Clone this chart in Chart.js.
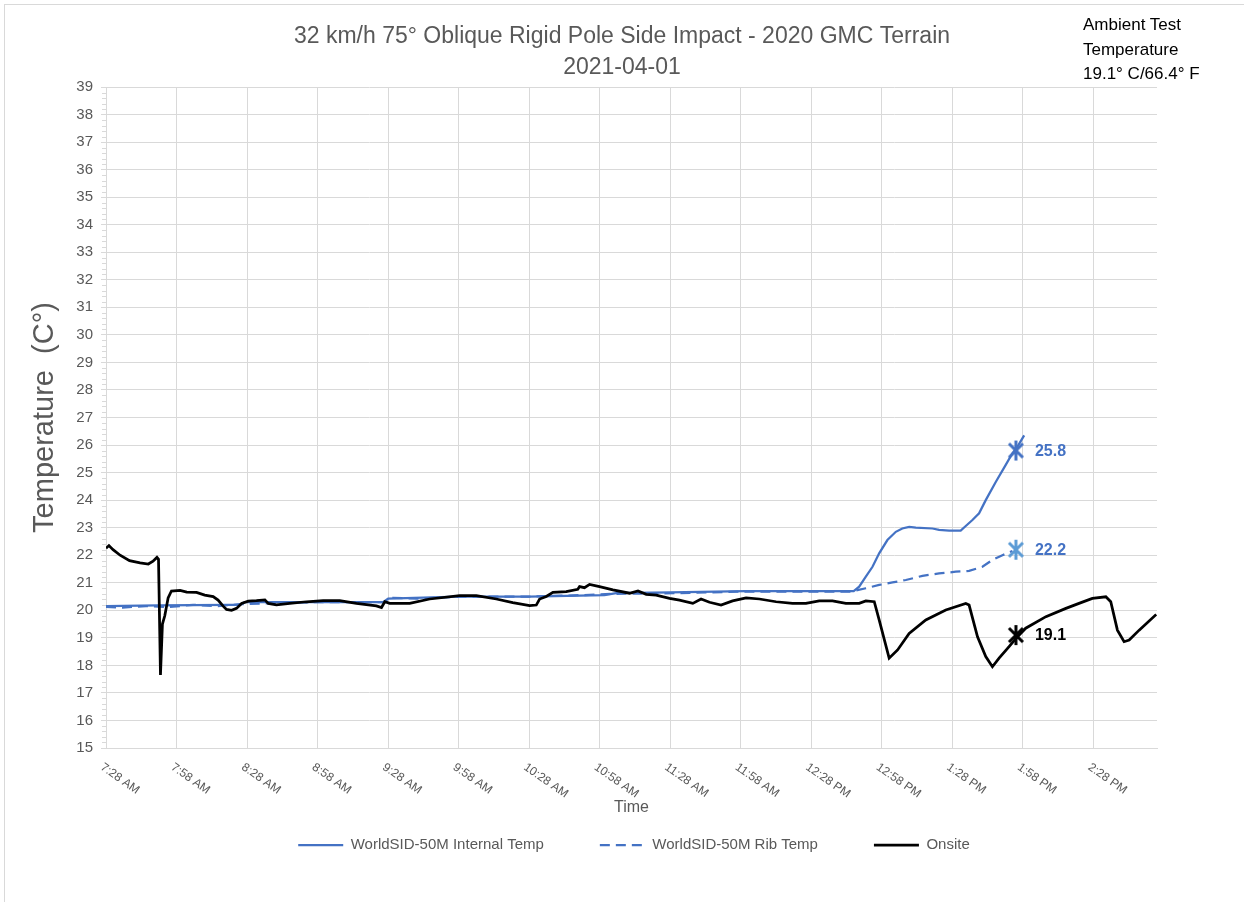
<!DOCTYPE html>
<html>
<head>
<meta charset="utf-8">
<title>32 km/h 75° Oblique Rigid Pole Side Impact - 2020 GMC Terrain</title>
<script src="https://cdn.jsdelivr.net/npm/chart.js@4.4.1/dist/chart.umd.min.js"></script>
<style>
    html, body { margin: 0; padding: 0; background: #FFFFFF; overflow: hidden; }
    #wrap { position: relative; width: 1244px; height: 902px; }
    #chart { display: block; }
    #frame { position: absolute; left: 4px; top: 4px; width: 1260px; height: 920px; border: 1px solid #D9D9D9; pointer-events: none; }
    #ambient { position: absolute; left: 1083px; top: 13px; font: 17px "Liberation Sans", Arial, sans-serif; line-height: 24.5px; color: #000000; }
</style>
</head>
<body>
<div id="wrap">
    <canvas id="chart" width="1244" height="902"></canvas>
    <div id="frame"></div>
    <div id="ambient">Ambient Test<br>Temperature<br>19.1° C/66.4° F</div>
</div>
<script>
const FONT = '"Liberation Sans", Arial, sans-serif';
const GRAY = "#595959";
const GRID = "#D9D9D9";

const TITLE_LINES = ["32 km/h 75° Oblique Rigid Pole Side Impact - 2020 GMC Terrain", "2021-04-01"];
const Y_TITLE = "Temperature  (C°)";
const X_TITLE = "Time";

const TICK_LABELS = [
    "7:28 AM", "7:58 AM", "8:28 AM", "8:58 AM", "9:28 AM", "9:58 AM", "10:28 AM", "10:58 AM",
    "11:28 AM", "11:58 AM", "12:28 PM", "12:58 PM", "1:28 PM", "1:58 PM", "2:28 PM",
];
const X_RANGE = ["7:28", "14:55"];
const Y_RANGE = [15, 39];

const SERIES_NAMES = ["WorldSID-50M Internal Temp", "WorldSID-50M Rib Temp", "Onsite"];

const INTERNAL_TIMES = [
    "7:28", "7:50", "8:20", "8:25", "8:27", "9:26", "9:28", "9:58", "10:28", "11:00", "11:05",
    "11:28", "12:00", "12:46", "12:48:20", "12:51:10", "12:54", "12:56:50", "13:00:20", "13:03:55",
    "13:06:40", "13:09:35", "13:12:25", "13:19:30", "13:22:20", "13:26:35", "13:31:30", "13:33:40",
    "13:36:30", "13:39:20", "13:42:10", "13:46:25", "13:50:40", "13:53:30", "13:55:40", "13:57:45", "13:58:30",
];
const INTERNAL_TEMPS = [
    20.15, 20.18, 20.2, 20.2, 20.3, 20.3, 20.42, 20.5, 20.5, 20.55, 20.62,
    20.65, 20.7, 20.7, 20.86, 21.22, 21.58, 22.07, 22.55, 22.85,
    22.97, 23.03, 23.0, 22.97, 22.92, 22.89, 22.89, 23.06,
    23.28, 23.52, 24.0, 24.66, 25.28, 25.7, 25.94, 26.24, 26.35,
];

const RIB_TIMES = [
    "7:28", "7:35", "7:45", "7:55", "8:05", "8:15", "8:25", "8:35", "9:00", "9:27", "9:30", "9:40",
    "10:00", "10:30", "10:50", "11:05", "11:30", "12:00", "12:45", "12:51:10", "12:56:50", "13:02:30",
    "13:08:10", "13:15:15", "13:22:20", "13:29:25", "13:35:05", "13:40:45", "13:45", "13:49:15", "13:53:30",
];
const RIB_TEMPS = [
    20.12, 20.1, 20.15, 20.12, 20.2, 20.15, 20.22, 20.25, 20.3, 20.3, 20.45, 20.42,
    20.5, 20.5, 20.55, 20.6, 20.62, 20.68, 20.68, 20.8, 20.92, 21.01,
    21.1, 21.25, 21.34, 21.4, 21.43, 21.58, 21.83, 22.0, 22.15,
];

const ONSITE_TIMES = [
    "7:28", "7:29:15", "7:31", "7:34", "7:38", "7:42:30", "7:46", "7:48", "7:49:40", "7:50:20",
    "7:51:10", "7:52", "7:53", "7:54:25", "7:55:50", "7:59:30", "8:02:20", "8:06:30", "8:10", "8:13:35",
    "8:15:40", "8:17:50", "8:19:15", "8:21:25", "8:23:30", "8:25:40", "8:28:30", "8:32", "8:35:35", "8:37",
    "8:40:30", "8:46:10", "8:53:15", "9:00:20", "9:07:25", "9:14:30", "9:23", "9:25:10", "9:26:35", "9:28:40",
    "9:37:10", "9:45:40", "9:58:25", "10:05:30", "10:14", "10:21", "10:28:10", "10:31", "10:32:25", "10:35:15",
    "10:38:05", "10:43:45", "10:48:40", "10:49:25", "10:51:30", "10:53:40", "10:57:55", "11:03:35", "11:10:40", "11:14:15",
    "11:17:45", "11:22", "11:27:40", "11:31:55", "11:37:35", "11:41:05", "11:44:40", "11:49:35", "11:54:30", "12:00:15",
    "12:05:55", "12:13", "12:20", "12:25:40", "12:31:20", "12:37", "12:42:40", "12:48:20", "12:51:10", "12:54:45",
    "12:56:50", "13:01:05", "13:04:40", "13:09:35", "13:16:40", "13:25:10", "13:33:40", "13:35:05", "13:38:40", "13:42:10",
    "13:45", "13:47:50", "13:52:05", "13:55:40", "13:59:10", "14:07:45", "14:16:15", "14:21:50", "14:27:30", "14:33:15",
    "14:35:20", "14:38:10", "14:41", "14:43:10", "14:47:25", "14:54:40",
];
const ONSITE_TEMPS = [
    22.25, 22.35, 22.2, 22.0, 21.8, 21.72, 21.68, 21.78, 21.92, 21.85,
    17.65, 19.5, 19.8, 20.45, 20.7, 20.72, 20.66, 20.65, 20.55, 20.5,
    20.37, 20.15, 20.03, 20.0, 20.07, 20.25, 20.33, 20.35, 20.38, 20.25,
    20.2, 20.25, 20.31, 20.35, 20.35, 20.25, 20.16, 20.1, 20.31, 20.25,
    20.25, 20.41, 20.53, 20.53, 20.41, 20.28, 20.17, 20.19, 20.41, 20.5,
    20.65, 20.68, 20.76, 20.86, 20.82, 20.94, 20.86, 20.74, 20.62, 20.7,
    20.58, 20.55, 20.43, 20.37, 20.25, 20.41, 20.29, 20.19, 20.34, 20.45,
    20.41, 20.31, 20.25, 20.25, 20.34, 20.34, 20.25, 20.25, 20.34, 20.31,
    19.65, 18.26, 18.56, 19.16, 19.65, 20.01, 20.25, 20.19, 19.04, 18.32,
    17.95, 18.26, 18.68, 19.04, 19.35, 19.77, 20.07, 20.25, 20.43, 20.49,
    20.31, 19.28, 18.86, 18.92, 19.28, 19.85,
];

// test-time readings marked with a star
const MARKER_TIME = "13:55";
const MARKER_TEMPS = [25.8, 22.2, 19.1];
const MARKER_COLORS = ["#4472C4", "#5B9BD5", "#000000"];
const LABEL_COLORS = ["#4472C4", "#4472C4", "#000000"];

function toMin(t) {
    const m = t.match(/(\d+):(\d+)(?::(\d+))?\s*(AM|PM)?/);
    let h = Number(m[1]);
    if (m[4] === "PM" && h < 12) h += 12;
    if (m[4] === "AM" && h === 12) h = 0;
    return h * 60 + Number(m[2]) + (m[3] ? Number(m[3]) / 60 : 0);
}

function points(times, temps) {
    return times.map((t, i) => ({ x: toMin(t), y: temps[i] }));
}

function starMarker(color) {
    const c = document.createElement("canvas");
    c.width = 20;
    c.height = 22;
    const g = c.getContext("2d");
    g.strokeStyle = color;
    g.lineWidth = 3;
    g.beginPath();
    g.moveTo(3, 4); g.lineTo(17, 18);
    g.moveTo(17, 4); g.lineTo(3, 18);
    g.moveTo(10, 1); g.lineTo(10, 21);
    g.stroke();
    return c;
}

const extras = {
    id: "extras",
    beforeDraw(chart) {
        // nudge the legend row to where the original sits
        if (chart.legend) chart.legend.left = 24;
    },
    afterDatasetsDraw(chart) {
        const ctx = chart.ctx;
        ctx.save();
        ctx.font = "bold 16px " + FONT;
        ctx.textAlign = "left";
        ctx.textBaseline = "middle";
        MARKER_TEMPS.forEach((v, i) => {
            const pt = chart.getDatasetMeta(3 + i).data[0];
            if (!pt) return;
            ctx.fillStyle = LABEL_COLORS[i];
            ctx.fillText(v.toFixed(1), pt.x + 19, pt.y + 1);
        });
        ctx.restore();
    },
    afterDraw(chart) {
        const ctx = chart.ctx;
        const xs = chart.scales.x;
        const ys = chart.scales.y;
        ctx.save();
        // minor tick marks on the value axis
        ctx.strokeStyle = GRID;
        ctx.lineWidth = 1;
        ctx.beginPath();
        for (let i = 0; i <= (Y_RANGE[1] - Y_RANGE[0]) * 5; i++) {
            if (i % 5 === 0) continue;
            const y = Math.round(ys.getPixelForValue(Y_RANGE[0] + i / 5)) + 0.5;
            ctx.moveTo(ys.right - 4, y);
            ctx.lineTo(ys.right, y);
        }
        ctx.stroke();
        // slanted time labels
        ctx.fillStyle = GRAY;
        ctx.font = "12px " + FONT;
        ctx.textAlign = "left";
        ctx.textBaseline = "top";
        TICK_LABELS.forEach((label) => {
            const x = xs.getPixelForValue(toMin(label));
            ctx.save();
            ctx.translate(x - 1, xs.top + 13);
            ctx.rotate(35 * Math.PI / 180);
            ctx.fillText(label, 0, 0);
            ctx.restore();
        });
        ctx.font = "16px " + FONT;
        ctx.textAlign = "center";
        ctx.textBaseline = "middle";
        ctx.fillText(X_TITLE, (chart.chartArea.left + chart.chartArea.right) / 2, 808);
        ctx.restore();
    },
};

const lineStyle = { pointRadius: 0, pointHoverRadius: 0, tension: 0, fill: false };

const datasets = [
    { ...lineStyle, label: SERIES_NAMES[0], data: points(INTERNAL_TIMES, INTERNAL_TEMPS), borderColor: "#4472C4", backgroundColor: "#4472C4", borderWidth: 2.25, order: 2 },
    { ...lineStyle, label: SERIES_NAMES[1], data: points(RIB_TIMES, RIB_TEMPS), borderColor: "#4472C4", backgroundColor: "#4472C4", borderWidth: 2.25, borderDash: [10, 6], order: 3 },
    { ...lineStyle, label: SERIES_NAMES[2], data: points(ONSITE_TIMES, ONSITE_TEMPS), borderColor: "#000000", backgroundColor: "#000000", borderWidth: 2.75, order: 1 },
];
MARKER_TEMPS.forEach((v, i) => {
    datasets.push({
        label: "marker " + i,
        data: [{ x: toMin(MARKER_TIME), y: v }],
        showLine: false,
        pointStyle: starMarker(MARKER_COLORS[i]),
        pointRadius: 8,
        pointHoverRadius: 8,
        order: 0,
    });
});

new Chart(document.getElementById("chart"), {
    type: "line",
    data: { datasets },
    options: {
        responsive: false,
        animation: false,
        events: [],
        layout: { padding: { top: 0, left: 0, right: 0, bottom: 39.5 } },
        scales: {
            x: {
                type: "linear",
                min: toMin(X_RANGE[0]),
                max: toMin(X_RANGE[1]),
                afterBuildTicks: (scale) => {
                    scale.ticks = TICK_LABELS.map((l) => ({ value: toMin(l) }));
                },
                afterFit: (scale) => { scale.height = 33.5; },
                ticks: { display: false },
                grid: { color: GRID, lineWidth: 1, drawTicks: false },
                border: { color: GRID, width: 1 },
            },
            y: {
                position: "left",
                min: Y_RANGE[0],
                max: Y_RANGE[1],
                afterFit: (scale) => { scale.width = 106; },
                ticks: {
                    stepSize: 1,
                    autoSkip: false,
                    padding: 8,
                    color: GRAY,
                    font: { family: FONT, size: 15 },
                },
                grid: { color: GRID, lineWidth: 1, tickLength: 5 },
                border: { color: GRID, width: 1 },
                title: {
                    display: true,
                    text: Y_TITLE,
                    color: GRAY,
                    font: { family: FONT, size: 29, lineHeight: 1.2 },
                    padding: { top: 27.6, bottom: 0 },
                },
            },
            yRight: {
                position: "right",
                display: true,
                afterFit: (scale) => { scale.width = 87; },
                ticks: { display: false },
                grid: { display: false },
                border: { display: false },
            },
        },
        plugins: {
            title: {
                display: true,
                text: TITLE_LINES,
                color: GRAY,
                font: { family: FONT, size: 23, weight: "normal", lineHeight: 1.348 },
                padding: { top: 21, bottom: 4 },
            },
            legend: {
                position: "bottom",
                labels: {
                    usePointStyle: true,
                    pointStyle: "line",
                    pointStyleWidth: 45,
                    padding: 56,
                    color: GRAY,
                    font: { family: FONT, size: 15 },
                    generateLabels: (chart) => Chart.defaults.plugins.legend.labels.generateLabels(chart).map((item) => {
                        const ds = chart.data.datasets[item.datasetIndex];
                        item.lineDash = ds.borderDash || [];
                        item.lineWidth = ds.borderWidth;
                        item.strokeStyle = ds.borderColor;
                        return item;
                    }),
                    filter: (item) => item.datasetIndex < 3,
                    sort: (a, b) => a.datasetIndex - b.datasetIndex,
                },
            },
            tooltip: { enabled: false },
        },
    },
    plugins: [extras],
});
</script>
</body>
</html>
